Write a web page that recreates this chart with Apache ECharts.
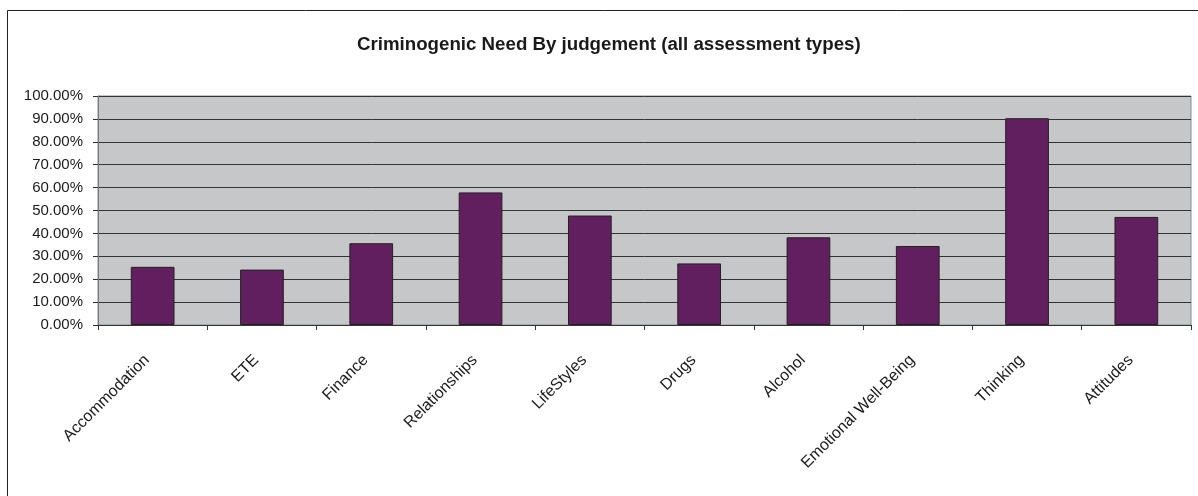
<!DOCTYPE html>
<html><head><meta charset="utf-8">
<script src="https://cdn.jsdelivr.net/npm/echarts@6/dist/echarts.min.js"></script>
<style>html,body{margin:0;padding:0;background:#fff;}#c{width:1198px;height:496px;}</style>
</head><body><div id="c"></div>
<script>
var categories = ['Accommodation','ETE','Finance','Relationships','LifeStyles','Drugs','Alcohol','Emotional Well-Being','Thinking','Attitudes'];
var values = [25.4, 24.2, 35.7, 57.9, 47.8, 26.9, 38.3, 34.5, 90.3, 47.2];
var titleText = 'Criminogenic Need By judgement (all assessment types)';

var chart = echarts.init(document.getElementById('c'));
chart.setOption({
  animation: false,
  backgroundColor: '#fff',
  title: {
    text: titleText, left: 352, top: 30,
    textStyle: {fontFamily: 'Liberation Sans', fontWeight: 'bold', fontSize: 18.7, color: '#1a1a1a'}
  },
  graphic: [{
    type: 'rect', shape: {x: 7.5, y: 10.5, width: 1300, height: 600},
    style: {fill: 'none', stroke: '#222', lineWidth: 1}, z: 100, silent: true
  }],
  grid: {left: 98, top: 96, right: 7, bottom: 171, show: true, backgroundColor: '#C6C7C9', borderColor: '#8a8a8a', borderWidth: 1},
  xAxis: {
    type: 'category', data: categories,
    axisLine: {lineStyle: {color: '#333'}},
    axisTick: {show: true, length: 5, alignWithLabel: false, lineStyle: {color: '#333'}},
    axisLabel: {rotate: 45, interval: 0, margin: 27, padding: [0, 8, 0, 0], fontFamily: 'Liberation Sans', fontSize: 16, color: '#1a1a1a'}
  },
  yAxis: {
    type: 'value', min: 0, max: 100, interval: 10,
    axisLine: {show: true, lineStyle: {color: '#777'}},
    axisTick: {show: true, length: 5, lineStyle: {color: '#333'}},
    splitLine: {lineStyle: {color: '#333', width: 1}},
    axisLabel: {fontFamily: 'Liberation Sans', fontSize: 15, color: '#1a1a1a', margin: 15,
      formatter: function(v){ return v.toFixed(2) + '%'; }}
  },
  series: [{
    type: 'bar', data: values, barCategoryGap: '60%',
    itemStyle: {color: '#621F60', borderColor: '#222', borderWidth: 1}
  }]
});
</script></body></html>
